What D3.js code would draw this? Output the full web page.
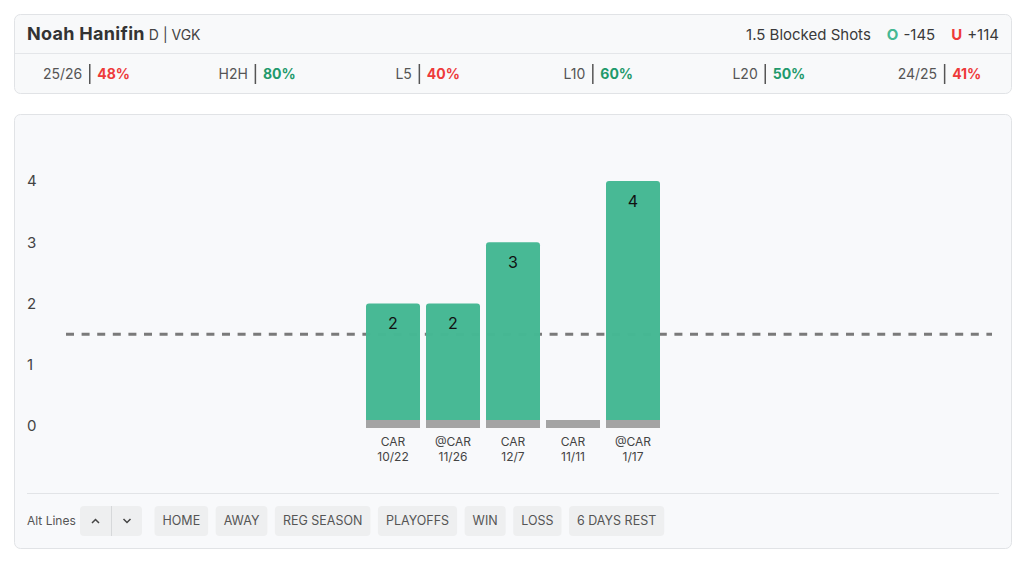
<!DOCTYPE html>
<html>
<head>
<meta charset="utf-8">
<script src="https://cdn.jsdelivr.net/npm/d3@7"></script>
<style>
  html, body { margin: 0; padding: 0; background: #ffffff; }
  svg { display: block; font-family: Inter, "Noto Sans", sans-serif; }
</style>
</head>
<body>
<svg id="chart" width="1024" height="564"></svg>
<script>
// ---- data ----
const player = "Noah Hanifin";
const playerInfo = "D | VGK";
const propLabel = "1.5 Blocked Shots";
const overOdds = "-145";
const underOdds = "+114";
const statLabels = ["25/26", "H2H", "L5", "L10", "L20", "24/25"];
const statValues = [48, 80, 40, 60, 50, 41];
const opponents = ["CAR", "@CAR", "CAR", "CAR", "@CAR"];
const dates = ["10/22", "11/26", "12/7", "11/11", "1/17"];
const values = [2, 2, 3, 0, 4];
const lineValue = 1.5;
const yTicks = [0, 1, 2, 3, 4];
const filterButtons = ["HOME", "AWAY", "REG SEASON", "PLAYOFFS", "WIN", "LOSS", "6 DAYS REST"];

const GREEN = "#45b893", GREEN_TXT = "#1f9a6c", RED = "#ee3a3a";
const svg = d3.select("#chart");

// ---- header card ----
svg.append("rect").attr("x", 14.5).attr("y", 14.5).attr("width", 997).attr("height", 79)
  .attr("rx", 6).attr("fill", "#f8f9fa").attr("stroke", "#e1e3e6");
svg.append("line").attr("x1", 15).attr("x2", 1011).attr("y1", 53.5).attr("y2", 53.5).attr("stroke", "#e4e6e9");

const title = svg.append("text").attr("x", 27).attr("y", 40).attr("fill", "#333");
title.append("tspan").attr("font-size", 18).attr("font-weight", 700).attr("letter-spacing", 0.3).text(player);
title.append("tspan").attr("font-size", 14).attr("fill", "#444").attr("dx", 4).text(playerInfo);

const prop = svg.append("text").attr("x", 999).attr("y", 39.5).attr("text-anchor", "end").attr("font-size", 15).attr("fill", "#3a3a3a");
prop.append("tspan").text(propLabel);
prop.append("tspan").attr("dx", 16).attr("fill", GREEN).attr("font-weight", 700).text("O");
prop.append("tspan").attr("dx", 5).text(overOdds);
prop.append("tspan").attr("dx", 16).attr("fill", RED).attr("font-weight", 700).text("U");
prop.append("tspan").attr("dx", 5).text(underOdds);

// stats row
statLabels.forEach((lab, i) => {
  const cx = 86.5 + i * 170.6;
  const g = svg.append("g");
  const t1 = g.append("text").attr("y", 79).attr("font-size", 14).attr("fill", "#555").text(lab);
  const t2 = g.append("text").attr("y", 79).attr("font-size", 14).attr("font-weight", 700)
    .attr("fill", statValues[i] >= 50 ? GREEN_TXT : RED).text(statValues[i] + "%");
  const w1 = t1.node().getComputedTextLength(), w2 = t2.node().getComputedTextLength();
  const gap = 7, total = w1 + gap * 2 + 1 + w2;
  const x0 = cx - total / 2;
  t1.attr("x", x0);
  g.append("line").attr("x1", x0 + w1 + gap + 0.5).attr("x2", x0 + w1 + gap + 0.5)
    .attr("y1", 64).attr("y2", 84).attr("stroke", "#555").attr("stroke-width", 1.5);
  t2.attr("x", x0 + w1 + gap * 2 + 1);
});

// ---- chart card ----
svg.append("rect").attr("x", 14.5).attr("y", 114.5).attr("width", 997).attr("height", 434)
  .attr("rx", 6).attr("fill", "#f8f9fb").attr("stroke", "#e1e3e6");

const y = d3.scaleLinear().domain([0, 4]).range([426, 181]);
const x = d3.scaleBand().domain(d3.range(values.length)).range([363, 663])
  .paddingInner(0.1).paddingOuter(0.05);
const games = values.map((v, i) => ({ i, v }));

// y axis labels
svg.append("g").selectAll("text").data(yTicks).join("text")
  .attr("x", 27).attr("y", d => y(d)).attr("dy", "0.36em")
  .attr("font-size", 15).attr("fill", "#444").text(d => d);

// line
svg.append("line").attr("x1", 66).attr("x2", 992).attr("y1", y(lineValue)).attr("y2", y(lineValue))
  .attr("stroke", "#7a7a7a").attr("stroke-width", 3).attr("stroke-dasharray", "8,7.6");

// bars
const bw = x.bandwidth();
function topRounded(x0, y0, w, h, r) {
  if (h <= 0) return "";
  r = Math.min(r, h);
  return `M${x0},${y0 + h}V${y0 + r}Q${x0},${y0} ${x0 + r},${y0}H${x0 + w - r}Q${x0 + w},${y0} ${x0 + w},${y0 + r}V${y0 + h}Z`;
}
const base = y(0) - 6;
svg.append("g").selectAll("path").data(games).join("path")
  .attr("d", d => topRounded(x(d.i), y(d.v), bw, base - y(d.v), 3))
  .attr("fill", GREEN).attr("fill-opacity", 0.985);
svg.append("g").selectAll("rect").data(games).join("rect")
  .attr("x", d => x(d.i)).attr("y", base).attr("width", bw).attr("height", 8)
  .attr("fill", "#a4a4a4");
svg.append("g").selectAll("text").data(games.filter(d => d.v > 0)).join("text")
  .attr("x", d => x(d.i) + bw / 2).attr("y", d => y(d.v) + 20).attr("dy", "0.36em")
  .attr("text-anchor", "middle").attr("font-size", 16).attr("fill", "#111").text(d => d.v);

// x labels
const xl = svg.append("g");
opponents.forEach((o, i) => {
  const t = xl.append("text").attr("x", x(i) + bw / 2).attr("y", 446).attr("text-anchor", "middle")
    .attr("font-size", 12).attr("fill", "#444");
  t.append("tspan").attr("x", x(i) + bw / 2).text(o);
  t.append("tspan").attr("x", x(i) + bw / 2).attr("dy", 15).text(dates[i]);
});

// ---- footer ----
svg.append("line").attr("x1", 27).attr("x2", 999).attr("y1", 493.5).attr("y2", 493.5).attr("stroke", "#e2e4e7");
svg.append("text").attr("x", 27).attr("y", 525).attr("font-size", 12).attr("fill", "#555").text("Alt Lines");
svg.append("rect").attr("x", 80).attr("y", 506).attr("width", 62).attr("height", 30).attr("rx", 4).attr("fill", "#eeeff0");
svg.append("line").attr("x1", 111.5).attr("x2", 111.5).attr("y1", 506).attr("y2", 536).attr("stroke", "#d6d8da");
svg.append("path").attr("d", "M92,523 L95.5,519.5 L99,523").attr("fill", "none").attr("stroke", "#444").attr("stroke-width", 1.5);
svg.append("path").attr("d", "M123.5,519 L127,522.5 L130.5,519").attr("fill", "none").attr("stroke", "#444").attr("stroke-width", 1.5);

let bx = 154.5;
filterButtons.forEach(label => {
  const g = svg.append("g");
  const r = g.append("rect").attr("y", 506).attr("height", 30).attr("rx", 4).attr("fill", "#eeeff0");
  const t = g.append("text").attr("y", 525).attr("font-size", 12.5).attr("fill", "#555").attr("text-anchor", "middle").text(label);
  const w = t.node().getComputedTextLength() + 16;
  r.attr("x", bx).attr("width", w);
  t.attr("x", bx + w / 2);
  bx += w + 7.5;
});
</script>
</body>
</html>
